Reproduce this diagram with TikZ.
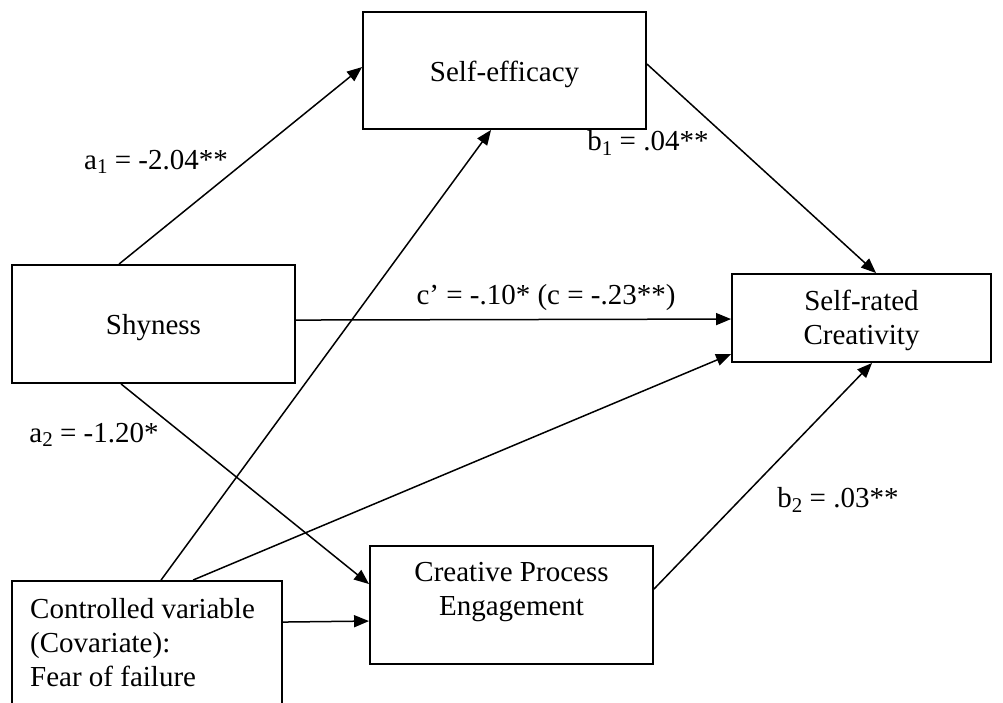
\documentclass[tikz,border=0pt]{standalone}
\usepackage{fontspec}
\setmainfont{Liberation Serif}
\usetikzlibrary{arrows.meta,calc}
\newcommand{\sbs}[1]{\raisebox{-0.15em}{\fontsize{21}{21}\selectfont #1}}
\begin{document}
\begin{tikzpicture}[x=1pt,y=-1pt,
  box/.style={draw, line width=1.9pt, inner sep=0pt},
  lbl/.style={font=\fontsize{29}{34}\selectfont, inner sep=0pt},
  conn/.style={line width=1.5pt, -{Triangle[length=15pt,width=12pt]}}]
\useasboundingbox (0,0) rectangle (1003,702);
\clip (0,0) rectangle (1003,702);
\fill[white] (0,0) rectangle (1003,702);
% boxes
\node[box, minimum width=283pt, minimum height=117pt] (se) at (504.5,70.5) {};
\node[lbl] (setext) at (504.5,74) {Self-efficacy};
\node[box, minimum width=283pt, minimum height=118pt] (shy) at (153.5,324) {};
\node[lbl] (shytext) at (153.5,328) {Shyness};
\node[box, minimum width=259pt, minimum height=88pt] (src) at (861.5,318) {};
\node[lbl, align=center] (srctext) at (861.5,320) {Self-rated\\Creativity};
\node[box, minimum width=283pt, minimum height=118pt] (cpe) at (511.5,605) {};
\node[lbl, align=center] (cpetext) at (511.5,592) {Creative Process\\Engagement};
\node[box, minimum width=270pt, minimum height=124pt] (ctrl) at (147,643) {};
\node[lbl, align=left, anchor=west] (ctrltext) at (30,643) {Controlled variable\\(Covariate):\\Fear of failure};
% connectors
\draw[conn] ($(shy.north west)+(108,0)$) -- ($(se.north west)+(0,56)$);
\draw[conn] ($(se.north east)+(0,53)$) -- ($(src.north west)+(145,0)$);
\draw[conn] ($(shy.north east)+(0,56)$) -- ($(src.north west)+(0,46)$);
\draw[conn] ($(shy.south west)+(110,0)$) -- ($(cpe.north west)+(0,39)$);
\draw[conn] ($(ctrl.north west)+(150,0)$) -- ($(se.south west)+(129,0)$);
\draw[conn] ($(ctrl.north west)+(182,0)$) -- ($(src.north west)+(0,81)$);
\draw[conn] ($(ctrl.north east)+(0,42)$) -- ($(cpe.north west)+(0,76)$);
\draw[conn] ($(cpe.north east)+(0,44)$) -- ($(src.south west)+(141,0)$);
% labels
\node[lbl] (la1) at (156,162) {a\sbs{1} = -2.04**};
\node[lbl] (la2) at (94,435) {a\sbs{2} = -1.20*};
\node[lbl] (lc) at (546,298) {c’ = -.10* (c = -.23**)};
\node[lbl] (lb1) at (648,143) {b\sbs{1} = .04**};
\node[lbl] (lb2) at (838,500) {b\sbs{2} = .03**};
\end{tikzpicture}
\end{document}
